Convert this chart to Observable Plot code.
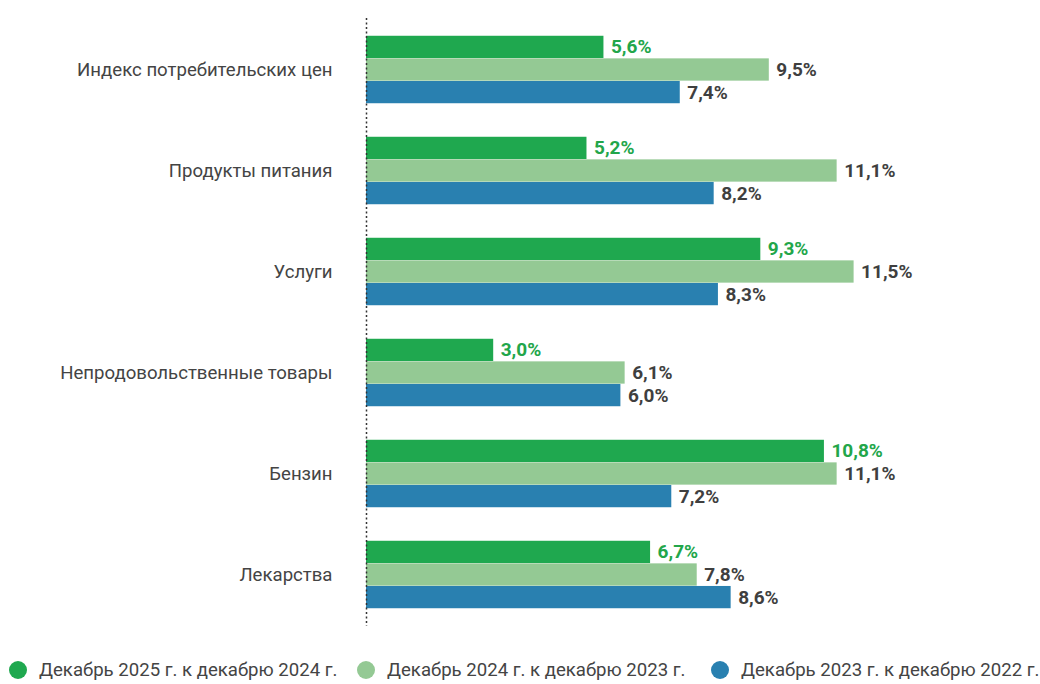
<!DOCTYPE html>
<html>
<head>
<meta charset="utf-8">
<script src="https://cdn.jsdelivr.net/npm/d3@7"></script>
<script src="https://cdn.jsdelivr.net/npm/@observablehq/plot@0.6"></script>
<style>
  html, body { margin: 0; padding: 0; background: #fff; }
  body { width: 1040px; height: 684px; position: relative; overflow: hidden; font-family: Roboto, "Noto Sans", sans-serif; }
  #chart svg { display: block; }
  .leg { position: absolute; top: 659px; height: 22px; line-height: 22px; display: flex; align-items: center; font-size: 18.6px; color: #444; white-space: nowrap; }
  .leg .dot { width: 18px; height: 18px; border-radius: 50%; margin-right: 12px; }
</style>
</head>
<body>
<div id="chart"></div>
<div id="legend"></div>
<script>
const categories = ["Индекс потребительских цен", "Продукты питания", "Услуги", "Непродовольственные товары", "Бензин", "Лекарства"];
const seriesNames = ["Декабрь 2025 г. к декабрю 2024 г.", "Декабрь 2024 г. к декабрю 2023 г.", "Декабрь 2023 г. к декабрю 2022 г."];
const values2025 = [5.6, 5.2, 9.3, 3.0, 10.8, 6.7];
const values2024 = [9.5, 11.1, 11.5, 6.1, 11.1, 7.8];
const values2023 = [7.4, 8.2, 8.3, 6.0, 7.2, 8.6];
const seriesColors = ["#1fa84f", "#94c994", "#2980b0"];
const labelColors = ["#22a64a", "#3f3f3f", "#3f3f3f"];

const seriesValues = [values2025, values2024, values2023];
const fmt = v => v.toFixed(1).replace(".", ",") + "%";

const barH = 22.6;
const inset = (101.33 - barH) / 2;
const offsets = [-barH, 0, barH];

const marks = [];
seriesValues.forEach((vals, i) => {
  const data = categories.map((c, j) => ({category: c, value: vals[j]}));
  marks.push(Plot.barX(data, {
    y: "category", x: "value", fill: seriesColors[i],
    insetTop: inset + offsets[i], insetBottom: inset - offsets[i]
  }));
  marks.push(Plot.text(data, {
    y: "category", x: "value", text: d => fmt(d.value),
    dx: 7, dy: offsets[i], textAnchor: "start", fill: labelColors[i],
    fontSize: 19, fontWeight: "bold"
  }));
});
marks.push(Plot.ruleX([0], {stroke: "#333", strokeWidth: 1.5, strokeDasharray: "2,2.5"}));

const chart = Plot.plot({
  width: 1040,
  height: 645,
  marginLeft: 366,
  marginRight: 38,
  marginTop: 18,
  marginBottom: 19,
  style: {fontFamily: "Roboto, 'Noto Sans', sans-serif", background: "#fff"},
  x: {domain: [0, 15], axis: null},
  y: {domain: categories, padding: 0, label: null},
  marks: [
    Plot.axisY({tickSize: 0, tickPadding: 34, fontSize: 18.6, fill: "#444", label: null}),
    ...marks
  ]
});
document.getElementById("chart").appendChild(chart);

const legendLefts = [9, 357, 711];
const legend = document.getElementById("legend");
seriesNames.forEach((name, i) => {
  const item = document.createElement("div");
  item.className = "leg";
  item.style.left = legendLefts[i] + "px";
  const dot = document.createElement("span");
  dot.className = "dot";
  dot.style.background = seriesColors[i];
  const label = document.createElement("span");
  label.textContent = name;
  item.appendChild(dot);
  item.appendChild(label);
  legend.appendChild(item);
});
</script>
</body>
</html>
